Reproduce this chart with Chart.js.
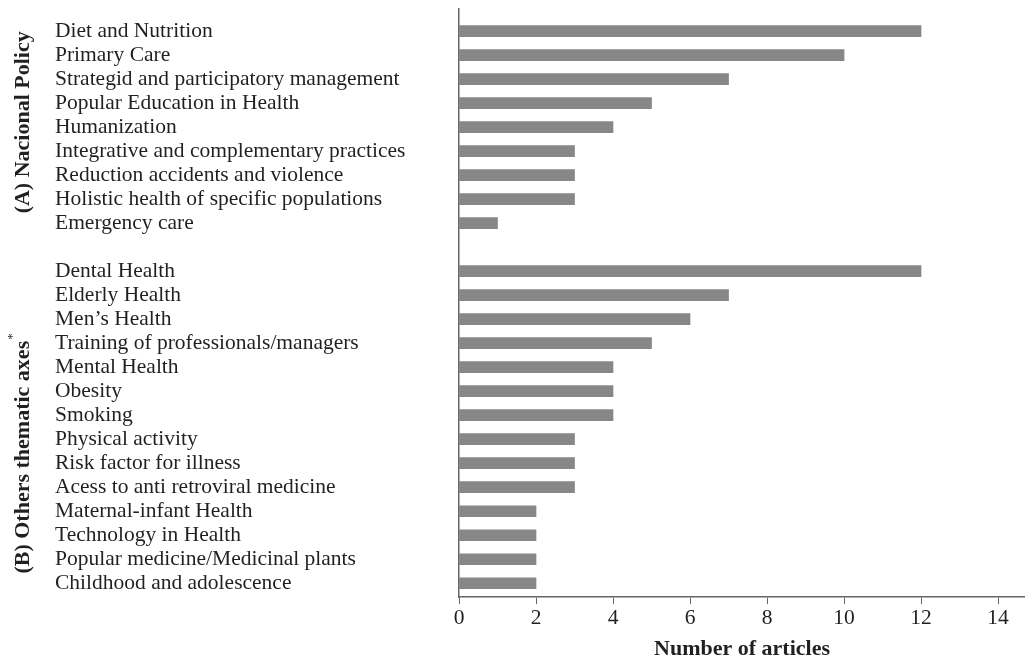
<!DOCTYPE html>
<html>
<head>
<meta charset="utf-8">
<script src="https://cdn.jsdelivr.net/npm/chart.js@4/dist/chart.umd.min.js"></script>
<style>
  html, body { margin: 0; padding: 0; background: #fff; }
  #wrap { width: 1025px; height: 656px; }
</style>
</head>
<body>
<div id="wrap"><canvas id="chart"></canvas></div>
<script>
const policyLabels = [
  "Diet and Nutrition",
  "Primary Care",
  "Strategid and participatory management",
  "Popular Education in Health",
  "Humanization",
  "Integrative and complementary practices",
  "Reduction accidents and violence",
  "Holistic health of specific populations",
  "Emergency care"
];
const policyValues = [12, 10, 7, 5, 4, 3, 3, 3, 1];

const otherLabels = [
  "Dental Health",
  "Elderly Health",
  "Men\u2019s Health",
  "Training of professionals/managers",
  "Mental Health",
  "Obesity",
  "Smoking",
  "Physical activity",
  "Risk factor for illness",
  "Acess to anti retroviral medicine",
  "Maternal-infant Health",
  "Technology in Health",
  "Popular medicine/Medicinal plants",
  "Childhood and adolescence"
];
const otherValues = [12, 7, 6, 5, 4, 4, 4, 3, 3, 3, 2, 2, 2, 2];

const xTicks = [0, 2, 4, 6, 8, 10, 12, 14];

// one blank row between the two groups
const rowLabels = [...policyLabels, "", ...otherLabels];
const rowValues = [...policyValues, null, ...otherValues];

const serif = "'Liberation Serif', 'Times New Roman', serif";
const ink = "#231f20";

// rotated group titles on the far left
const groupTitles = {
  id: "groupTitles",
  afterDraw(chart) {
    const ctx = chart.ctx;
    const y = chart.scales.y;
    ctx.save();
    ctx.fillStyle = ink;
    ctx.font = "bold 22px " + serif;
    ctx.textAlign = "center";
    ctx.textBaseline = "middle";

    ctx.save();
    ctx.translate(23, y.getPixelForValue(3.8));
    ctx.rotate(-Math.PI / 2);
    ctx.fillText("(A) Nacional Policy", 0, 0);
    ctx.restore();

    ctx.save();
    ctx.translate(23, y.getPixelForValue(17.75));
    ctx.rotate(-Math.PI / 2);
    const t = "(B) Others thematic axes";
    ctx.fillText(t, 0, 0);
    const w = ctx.measureText(t).width;
    ctx.font = "13px " + serif;
    ctx.textAlign = "left";
    ctx.fillText("*", w / 2 + 1, -10);
    ctx.restore();

    ctx.restore();
  }
};

new Chart(document.getElementById("chart"), {
  type: "bar",
  data: {
    datasets: [{
      data: rowValues.map((v, i) => ({ x: v, y: i })),
      backgroundColor: "#87878a",
      borderWidth: 0,
      barThickness: 11
    }]
  },
  options: {
    indexAxis: "y",
    responsive: true,
    maintainAspectRatio: false,
    animation: false,
    layout: { padding: { left: 55, top: 9, right: 0, bottom: 0 } },
    plugins: {
      legend: { display: false },
      tooltip: { enabled: false }
    },
    scales: {
      y: {
        type: "linear",
        reverse: true,
        offset: false,
        min: -0.92,
        max: 23.58,
        afterBuildTicks: (scale) => {
          scale.ticks = rowLabels.map((_, i) => ({ value: i }));
        },
        afterFit: (scale) => {
          scale.width = 404;
          scale.paddingTop = 0;
          scale.paddingBottom = 0;
        },
        grid: { display: false, offset: false },
        border: { display: true, color: "#666", width: 1.5 },
        ticks: {
          autoSkip: false,
          crossAlign: "far",
          color: ink,
          font: { family: serif, size: 21.5 },
          callback: (v) => rowLabels[v]
        }
      },
      x: {
        type: "linear",
        min: 0,
        max: 14.7,
        afterBuildTicks: (scale) => {
          scale.ticks = xTicks.map(v => ({ value: v }));
        },
        afterFit: (scale) => {
          scale.paddingLeft = 0;
          scale.paddingRight = 0;
        },
        grid: {
          display: true,
          drawOnChartArea: false,
          drawTicks: true,
          tickLength: 7,
          tickColor: "#666"
        },
        border: { display: true, color: "#666", width: 1.5 },
        ticks: {
          color: ink,
          padding: 2,
          font: { family: serif, size: 21.5, lineHeight: 1.1 }
        },
        title: {
          display: true,
          text: "Number of articles",
          color: ink,
          padding: { top: 11, bottom: 0 },
          font: { family: serif, size: 22, weight: "bold", lineHeight: 0.6 }
        }
      }
    }
  },
  plugins: [groupTitles]
});
</script>
</body>
</html>
